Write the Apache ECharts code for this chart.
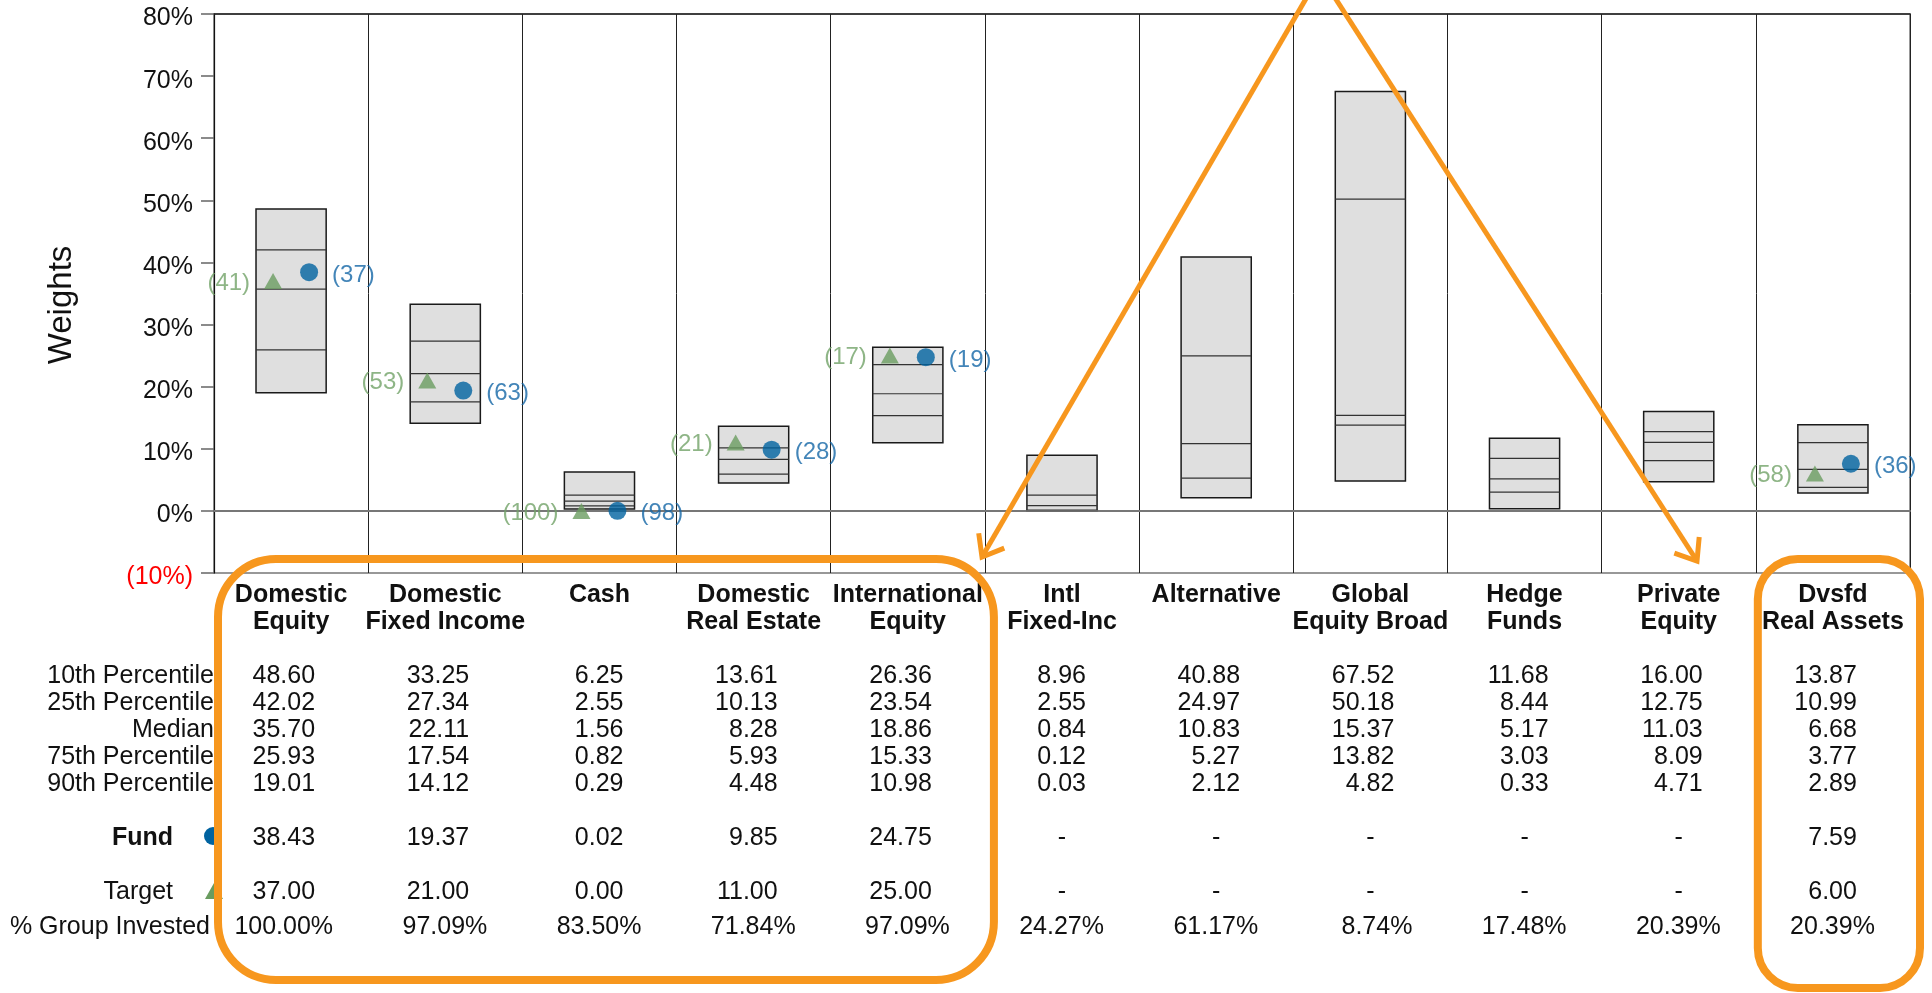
<!DOCTYPE html>
<html>
<head>
<meta charset="utf-8">
<script src="https://cdn.jsdelivr.net/npm/echarts@6/dist/echarts.min.js"></script>
<style>
  html, body { margin: 0; padding: 0; background: #ffffff; }
  #chart { width: 1932px; height: 993px; }
</style>
</head>
<body>
<div id="chart"></div>
<script>
// Asset classes (two-line headers under the plot)
const categories = [
  'Domestic\nEquity', 'Domestic\nFixed Income', 'Cash', 'Domestic\nReal Estate',
  'International\nEquity', 'Intl\nFixed-Inc', 'Alternative', 'Global\nEquity Broad',
  'Hedge\nFunds', 'Private\nEquity', 'Dvsfd\nReal Assets'
];

// Peer-group weight percentiles (%)
const p10    = [48.60, 33.25, 6.25, 13.61, 26.36, 8.96, 40.88, 67.52, 11.68, 16.00, 13.87];
const p25    = [42.02, 27.34, 2.55, 10.13, 23.54, 2.55, 24.97, 50.18,  8.44, 12.75, 10.99];
const median = [35.70, 22.11, 1.56,  8.28, 18.86, 0.84, 10.83, 15.37,  5.17, 11.03,  6.68];
const p75    = [25.93, 17.54, 0.82,  5.93, 15.33, 0.12,  5.27, 13.82,  3.03,  8.09,  3.77];
const p90    = [19.01, 14.12, 0.29,  4.48, 10.98, 0.03,  2.12,  4.82,  0.33,  4.71,  2.89];

// Fund and target weights (%) with their percentile ranks
const fund       = [38.43, 19.37, 0.02, 9.85, 24.75, null, null, null, null, null, 7.59];
const fundRank   = [37, 63, 98, 28, 19, null, null, null, null, null, 36];
const target     = [37.00, 21.00, 0.00, 11.00, 25.00, null, null, null, null, null, 6.00];
const targetRank = [41, 53, 100, 21, 17, null, null, null, null, null, 58];

// Share of the group invested in each asset class (%)
const groupInvested = [100.00, 97.09, 83.50, 71.84, 97.09, 24.27, 61.17, 8.74, 17.48, 20.39, 20.39];

// Y axis range
const yMin = -10, yMax = 80, yStep = 10;

// Table row labels
const rowLabels = ['10th Percentile', '25th Percentile', 'Median', '75th Percentile', '90th Percentile'];

// ---- layout ----
const W = 1932, H = 993;
const GRID = { left: 214, top: 14, right: 22, bottom: 420 };
const plotRight = W - GRID.right;
const colW = (plotRight - GRID.left) / categories.length;
const FONT = "'Liberation Sans', Arial, Helvetica, sans-serif";
const FS = 25;
const ROW_Y = { pct: [676, 703, 730, 757, 784], fund: 838, target: 892, group: 927 };
const NUM_SHIFT = 24;   // numbers are right-aligned a little right of the column centre
const PCT_SHIFT = 42;

const BLUE = '#0063A0', BLUE_TXT = '#1467A6';
const GREEN = '#6A9C60', GREEN_TXT = '#72A268';
const ORANGE = '#F7971E';

const chart = echarts.init(document.getElementById('chart'), null, { renderer: 'canvas' });

const boxData = categories.map((c, i) => [i, p10[i], p25[i], median[i], p75[i], p90[i]]);
const fundData = fund.map((v, i) => v == null ? null : [i, v, fundRank[i]]).filter(Boolean);
const targetData = target.map((v, i) => v == null ? null : [i, v, targetRank[i]]).filter(Boolean);
const tableData = categories.map((c, i) => [i, 0]);

function fmt(v) { return v == null ? '-' : v.toFixed(2); }

function textEl(x, y, text, align, weight) {
  return {
    type: 'text', x: x, y: y,
    style: {
      text: text, fill: '#111', fontFamily: FONT, fontSize: FS,
      fontWeight: weight || 'normal', align: align, verticalAlign: 'middle'
    }
  };
}

// Orange call-out arrows
function arrowLine(sx, sy, tx, ty) {
  const a = Math.atan2(sy - ty, sx - tx);
  const len = 24, ang = 38 * Math.PI / 180;
  return [
    { type: 'line', z: 100, shape: { x1: sx, y1: sy, x2: tx, y2: ty },
      style: { stroke: ORANGE, lineWidth: 5 } },
    { type: 'polyline', z: 100,
      shape: { points: [
        [tx + len * Math.cos(a + ang), ty + len * Math.sin(a + ang)],
        [tx, ty],
        [tx + len * Math.cos(a - ang), ty + len * Math.sin(a - ang)]
      ] },
      style: { stroke: ORANGE, lineWidth: 5, fill: null, lineJoin: 'miter' } }
  ];
}

const graphics = [];
// y axis title
graphics.push({
  type: 'text', x: 62, y: 305, rotation: Math.PI / 2,
  style: { text: 'Weights', fill: '#111', fontFamily: FONT, fontSize: 33,
           align: 'center', verticalAlign: 'middle' }
});
// table row labels
rowLabels.forEach((t, k) => graphics.push(textEl(GRID.left, ROW_Y.pct[k], t, 'right')));
graphics.push(textEl(173, ROW_Y.fund, 'Fund', 'right', 'bold'));
graphics.push(textEl(173, ROW_Y.target, 'Target', 'right'));
graphics.push(textEl(GRID.left - 4, ROW_Y.group, '% Group Invested', 'right'));
// legend symbols beside Fund / Target
graphics.push({ type: 'circle', shape: { cx: GRID.left - 1, cy: ROW_Y.fund - 2, r: 9 }, style: { fill: BLUE } });
graphics.push({ type: 'polygon',
  shape: { points: [[GRID.left, ROW_Y.target - 9], [GRID.left + 9, ROW_Y.target + 7], [GRID.left - 9, ROW_Y.target + 7]] },
  style: { fill: GREEN } });
// highlight frames
graphics.push({ type: 'rect', z: 100,
  shape: { x: GRID.left + 4, y: 559, width: 5 * colW + 5, height: 980 - 559, r: 58 },
  style: { fill: null, stroke: ORANGE, lineWidth: 8 } });
graphics.push({ type: 'rect', z: 100,
  shape: { x: GRID.left + 10 * colW + 2, y: 559, width: colW + 8, height: 988 - 559, r: 40 },
  style: { fill: null, stroke: ORANGE, lineWidth: 8 } });
arrowLine(1311, -10, 982, 557).forEach(g => graphics.push(g));
arrowLine(1330, -10, 1697, 561).forEach(g => graphics.push(g));

const option = {
  animation: false,
  backgroundColor: '#ffffff',
  grid: {
    left: GRID.left, top: GRID.top, right: GRID.right, bottom: GRID.bottom,
    show: true, borderColor: '#777', borderWidth: 1.5, containLabel: false
  },
  xAxis: [{
    type: 'category',
    data: categories,
    position: 'bottom',
    boundaryGap: true,
    axisLine: { show: true, lineStyle: { color: '#777', width: 2 } },
    axisTick: { show: false },
    splitLine: { show: true, interval: 0, lineStyle: { color: '#222', width: 1 } },
    axisLabel: {
      interval: 0, hideOverlap: false, margin: 9,
      fontFamily: FONT, fontSize: FS, fontWeight: 'bold', color: '#111', lineHeight: 27
    }
  }, {
    type: 'category',
    data: categories,
    position: 'top',
    axisLine: { show: true, lineStyle: { color: '#222', width: 1.5 } },
    axisTick: { show: false },
    axisLabel: { show: false },
    splitLine: { show: false }
  }],
  yAxis: {
    type: 'value',
    min: yMin, max: yMax, interval: yStep,
    axisLine: { show: true, lineStyle: { color: '#111', width: 1.2 } },
    axisTick: { show: true, inside: false, length: 13, lineStyle: { color: '#666', width: 1.5 } },
    splitLine: { show: false },
    axisLabel: {
      margin: 21, fontFamily: FONT, fontSize: FS, showMinLabel: true, showMaxLabel: true,
      verticalAlign: 'top', lineHeight: 9,
      formatter: v => (Number(v) < 0 ? '(' + (-v) + '%)' : v + '%'),
      color: v => (Number(v) < 0 ? '#FF0000' : '#111')
    }
  },
  graphic: graphics,
  series: [
    {
      name: 'Percentile range',
      type: 'custom',
      data: boxData,
      encode: { x: 0, y: [1, 5] },
      z: 2,
      renderItem: function (params, api) {
        const i = api.value(0);
        const xc = api.coord([i, 0])[0];
        const w = api.size([1, 0])[0] * 0.455;
        const yTop = api.coord([i, api.value(1)])[1];
        const yBot = api.coord([i, api.value(5)])[1];
        const children = [{
          type: 'rect',
          shape: { x: xc - w / 2, y: yTop, width: w, height: yBot - yTop },
          style: { fill: '#DFDFDF', stroke: '#1a1a1a', lineWidth: 1.5 }
        }];
        [2, 3, 4].forEach(k => {
          const y = api.coord([i, api.value(k)])[1];
          children.push({
            type: 'line',
            shape: { x1: xc - w / 2, y1: y, x2: xc + w / 2, y2: y },
            style: { stroke: '#333', lineWidth: 1.2 }
          });
        });
        return { type: 'group', children: children };
      }
    },
    {
      name: 'Zero',
      type: 'line',
      data: [],
      markLine: {
        silent: true, symbol: 'none',
        label: { show: false },
        lineStyle: { color: '#777', type: 'solid', width: 1.5 },
        data: [{ yAxis: 0 }]
      }
    },
    {
      name: 'Target',
      type: 'scatter',
      data: targetData,
      symbol: 'triangle',
      symbolSize: [18, 16],
      symbolOffset: [-18, 0],
      itemStyle: { color: GREEN },
      z: 5,
      label: {
        show: true, position: 'left', distance: 14, offset: [0, 2],
        formatter: p => '(' + p.value[2] + ')',
        color: GREEN_TXT, fontFamily: FONT, fontSize: 24
      }
    },
    {
      name: 'Fund',
      type: 'scatter',
      data: fundData,
      symbol: 'circle',
      symbolSize: 18,
      symbolOffset: [18, 0],
      itemStyle: { color: BLUE },
      z: 5,
      label: {
        show: true, position: 'right', distance: 14, offset: [0, 3],
        formatter: p => '(' + p.value[2] + ')',
        color: BLUE_TXT, fontFamily: FONT, fontSize: 24
      }
    },
    {
      name: 'Table',
      type: 'custom',
      data: tableData,
      encode: { x: 0, y: 1 },
      clip: false,
      silent: true,
      renderItem: function (params, api) {
        const i = api.value(0);
        const xc = api.coord([i, 0])[0];
        const children = [];
        [p10, p25, median, p75, p90].forEach((arr, k) => {
          children.push(textEl(xc + NUM_SHIFT, ROW_Y.pct[k], fmt(arr[i]), 'right'));
        });
        children.push(fund[i] == null ? textEl(xc, ROW_Y.fund, '-', 'center')
                                      : textEl(xc + NUM_SHIFT, ROW_Y.fund, fmt(fund[i]), 'right'));
        children.push(target[i] == null ? textEl(xc, ROW_Y.target, '-', 'center')
                                        : textEl(xc + NUM_SHIFT, ROW_Y.target, fmt(target[i]), 'right'));
        children.push(textEl(xc + PCT_SHIFT, ROW_Y.group, groupInvested[i].toFixed(2) + '%', 'right'));
        return { type: 'group', children: children };
      }
    }
  ]
};

chart.setOption(option);
</script>
</body>
</html>
